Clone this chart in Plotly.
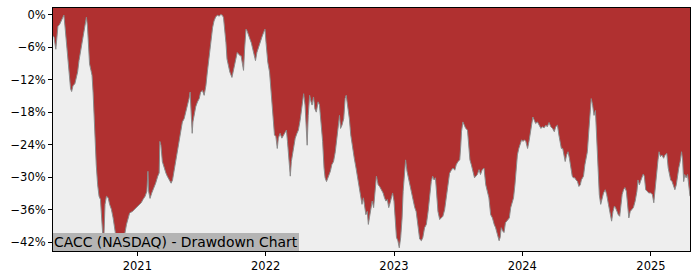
import pandas as pd
import plotly.graph_objects as go

START_DATE = "2020-05-06"

# Days elapsed since START_DATE for each sampled point of the drawdown curve
day_offsets = [
    0, 3, 8, 11, 14, 19, 24, 28, 31, 34, 38, 42, 46, 50, 53, 57, 62, 66, 70, 74,
    78, 82, 85, 89, 93, 95, 98, 100, 104, 108, 111, 114, 117, 120, 123, 127, 131, 135, 139, 142,
    145, 148, 152, 157, 161, 166, 171, 176, 180, 185, 190, 195, 199, 204, 209, 213, 218, 226, 233, 239,
    245, 251, 256, 262, 267, 270, 272, 276, 281, 287, 292, 298, 302,
    304, 307, 311, 316, 321, 325, 330, 336, 340, 344, 349, 354, 359, 363, 368, 373, 378, 382, 387, 390,
    393, 396, 398, 402, 406, 411, 416, 420, 425, 430, 435, 439, 444, 449, 454, 458, 463, 468, 473, 477,
    482, 485, 489, 492, 495, 499, 503, 509, 512, 516, 520, 524, 528, 532, 535, 539, 542, 545, 549, 552,
    556, 560, 564, 567, 572, 576, 580, 584, 589, 594, 599, 603,
    606, 611, 616, 620, 623, 626, 630, 634, 638, 641, 646, 651, 656, 660, 664, 667, 671, 675, 678, 683,
    689, 694, 698, 703, 708, 713, 717, 720, 723, 726, 730, 734, 737, 741, 745, 749, 754, 758, 763, 767,
    771, 774, 778, 782, 786, 789, 793, 798, 803, 808, 812, 815, 818, 822, 827, 831, 834, 838, 843, 847,
    852, 857, 862, 866, 871, 875, 879, 883, 886, 890, 894, 897, 900, 905,
    908, 912, 916, 920, 925, 929, 934, 939, 943, 947, 951, 955, 959, 962, 966, 970, 974, 977, 981, 985,
    989, 993, 996, 1000, 1003, 1007, 1011, 1014, 1019, 1024, 1029, 1033, 1038, 1043, 1048, 1052, 1057, 1062, 1067, 1071,
    1076, 1080, 1084, 1088, 1091, 1095, 1100, 1105, 1109, 1114, 1119, 1124, 1128, 1133, 1138, 1143, 1147, 1152, 1157, 1160,
    1162, 1166, 1170, 1174, 1179, 1182, 1186, 1190, 1195, 1199, 1203, 1207,
    1212, 1216, 1221, 1226, 1231, 1236, 1240, 1245, 1250, 1255, 1259, 1264, 1269, 1272, 1275, 1279, 1283, 1287, 1291, 1295,
    1298, 1302, 1306, 1310, 1314, 1318, 1321, 1325, 1329, 1333, 1337, 1341, 1345, 1350, 1354, 1358, 1361, 1365, 1369, 1373,
    1378, 1383, 1388, 1392, 1397, 1402, 1406, 1411, 1416, 1421, 1426, 1430, 1435, 1439, 1443, 1446, 1450, 1454, 1457, 1461,
    1465, 1469, 1473, 1477, 1480, 1484, 1488, 1492, 1496, 1500, 1503, 1509,
    1513, 1517, 1520, 1524, 1528, 1531, 1535, 1539, 1543, 1545, 1548, 1551, 1554, 1558, 1562, 1566, 1571, 1575, 1580, 1585,
    1589, 1593, 1597, 1600, 1604, 1608, 1612, 1615, 1619, 1623, 1627, 1631, 1634, 1638, 1642, 1647, 1651, 1656, 1661, 1664,
    1668, 1671, 1675, 1679, 1682, 1686, 1690, 1695, 1700, 1705, 1709, 1713, 1717, 1721, 1724, 1728, 1732, 1737, 1741, 1746,
    1750, 1754, 1757, 1761, 1765, 1769, 1773, 1777, 1780, 1784, 1788, 1791, 1794, 1797, 1801, 1805, 1809, 1812,
]

# Drawdown from running peak, in percent
drawdown_pct = [
    -3.9, -4.2, -6.4, -3.6, -2.2, -1.8, -1.2, -0.6, -0.1, -2.1, -5.2, -8.8, -11.6, -13.7, -14.2, -13.1, -12.8, -11.6, -10.6, -8.5,
    -7.0, -5.2, -3.9, -2.4, -0.9, -0.5, -2.1, -5.2, -9.1, -10.3, -11.2, -14.3, -19.2, -24.1, -27.7, -31.4, -33.5, -34.1, -37.5, -41.1,
    -40.5, -35.0, -33.5, -33.8, -35.0, -35.9, -37.5, -39.9, -41.4, -42.5, -42.3, -41.1, -40.8, -40.5, -38.7, -37.5, -36.6, -36.3, -35.8, -35.4,
    -35.0, -34.7, -34.1, -33.5, -32.6, -28.9, -32.6, -33.9, -32.9, -32.0, -31.1, -29.8, -29.2,
    -23.4, -24.1, -27.1, -28.3, -29.2, -29.8, -30.5, -31.1, -30.5, -28.9, -27.1, -25.3, -22.8, -21.0, -19.8, -19.2, -18.0, -16.7, -15.5, -14.3,
    -18.0, -21.9, -19.8, -18.0, -17.0, -16.1, -15.5, -14.3, -14.0, -14.9, -13.1, -10.6, -7.9, -4.8, -2.4, -1.2, -0.4, -0.15, -0.3, 0.0,
    -0.15, -0.6, -2.7, -5.2, -8.2, -9.7, -10.6, -11.6, -10.6, -9.7, -8.2, -7.0, -7.3, -7.6, -7.6, -9.7, -10.3, -6.4, -2.7, -3.0,
    -3.6, -4.5, -5.2, -6.1, -7.6, -8.5, -7.0, -6.1, -5.2, -4.2, -3.3, -2.7,
    -5.2, -8.8, -10.6, -14.3, -16.7, -19.8, -22.2, -22.5, -24.7, -22.8, -21.9, -22.8, -22.2, -21.9, -21.3, -23.4, -27.1, -29.8, -27.1, -24.7,
    -22.8, -21.9, -21.3, -19.5, -17.4, -14.6, -16.7, -21.6, -24.1, -18.6, -14.9, -16.1, -16.7, -15.2, -17.4, -18.0, -16.1, -16.7, -19.8, -23.4,
    -28.3, -30.1, -30.8, -30.1, -29.5, -28.9, -27.7, -27.1, -25.3, -22.2, -19.8, -18.6, -21.0, -20.4, -19.2, -15.5, -14.9, -16.7, -19.2, -22.2,
    -24.7, -26.5, -28.3, -30.1, -31.7, -33.5, -35.0, -33.8, -35.6, -36.9, -36.3, -38.7, -37.5, -35.0,
    -34.4, -35.6, -32.6, -29.8, -31.4, -31.7, -32.3, -32.9, -33.8, -34.4, -34.1, -35.6, -34.7, -33.8, -32.9, -34.4, -39.9, -41.1, -41.7, -43.0,
    -41.1, -37.5, -32.6, -28.9, -26.8, -28.9, -30.1, -31.4, -32.9, -34.4, -35.6, -36.3, -38.7, -41.4, -41.7, -41.1, -39.3, -38.7, -36.3, -33.2,
    -30.8, -29.8, -30.5, -30.1, -33.8, -36.3, -37.8, -37.5, -37.2, -36.0, -33.8, -31.4, -29.3, -28.7, -28.3, -28.7, -27.7, -27.1, -26.8, -24.1,
    -21.6, -19.8, -20.4, -21.0, -21.3, -24.7, -26.8, -27.7, -28.9, -30.1, -29.8, -29.5,
    -28.6, -29.5, -28.6, -28.3, -31.4, -32.6, -33.8, -36.9, -37.5, -38.7, -39.3, -40.5, -41.7, -41.1, -39.3, -39.9, -40.2, -38.4, -38.1, -37.8,
    -37.5, -35.6, -34.4, -33.8, -31.4, -27.7, -25.9, -24.7, -23.7, -23.1, -23.4, -23.1, -23.4, -24.7, -23.4, -21.6, -21.0, -18.9, -19.5, -20.1,
    -19.8, -20.4, -21.0, -20.7, -20.9, -20.4, -20.7, -19.9, -20.7, -21.0, -21.6, -20.7, -20.4, -22.2, -23.4, -24.7, -24.7, -26.5, -27.1, -25.9,
    -25.3, -26.5, -28.3, -29.8, -30.1, -30.1, -30.5, -30.8, -31.7, -31.4, -30.5, -29.8,
    -27.7, -26.5, -25.3, -21.6, -17.9, -15.5, -16.7, -18.6, -17.7, -20.4, -24.7, -28.9, -33.2, -35.0, -33.8, -32.9, -32.3, -33.2, -35.0, -36.9,
    -38.1, -36.3, -35.3, -35.6, -36.3, -36.9, -37.2, -35.0, -33.2, -32.3, -31.9, -32.6, -35.0, -37.5, -36.3, -35.9, -35.6, -34.4, -32.6, -30.5,
    -31.4, -30.8, -30.1, -29.4, -29.8, -32.3, -32.6, -32.9, -32.9, -33.2, -34.7, -31.7, -28.9, -26.8, -25.3, -26.2, -25.9, -26.5, -25.9, -25.6,
    -28.3, -29.8, -30.5, -30.8, -31.4, -32.3, -31.4, -29.2, -28.3, -27.1, -25.3, -26.8, -30.8, -29.5, -30.1, -29.5, -32.6, -33.5,
]

y_tick_values = [0, -6, -12, -18, -24, -30, -36, -42]
y_tick_labels = ["0%", "\u22126%", "\u221212%", "\u221218%", "\u221224%", "\u221230%", "\u221236%", "\u221242%"]
x_tick_dates = ["2021-01-01", "2022-01-01", "2023-01-01", "2024-01-01", "2025-01-01"]
x_tick_labels = ["2021", "2022", "2023", "2024", "2025"]

TITLE = "CACC (NASDAQ) - Drawdown Chart"
Y_MIN, Y_MAX = -43.6, 1.2

dates = pd.Timestamp(START_DATE) + pd.to_timedelta(day_offsets, unit="D")

RED = "#b03030"
GRAY_BG = "#eeeeee"

fig = go.Figure()
fig.add_trace(go.Scatter(
    x=dates, y=[Y_MIN] * len(dates), mode="lines",
    line=dict(width=0, color=GRAY_BG), hoverinfo="skip", showlegend=False,
))
fig.add_trace(go.Scatter(
    x=dates, y=drawdown_pct, mode="lines",
    line=dict(width=1, color="#8a8a8a"),
    fill="tonexty", fillcolor=GRAY_BG, showlegend=False,
))

axis_font = dict(family="DejaVu Sans", size=11.5, color="black")
fig.update_layout(
    width=700, height=280,
    margin=dict(l=53, r=10, t=7, b=28),
    paper_bgcolor="white",
    plot_bgcolor=RED,
    showlegend=False,
    xaxis=dict(
        type="date",
        range=[dates[0], dates[-1]],
        tickvals=x_tick_dates, ticktext=x_tick_labels,
        ticks="outside", ticklen=4, tickwidth=1, tickcolor="black",
        showline=True, linecolor="black", linewidth=1, mirror=True,
        showgrid=False, zeroline=False,
        tickfont=axis_font,
    ),
    yaxis=dict(
        range=[Y_MIN, Y_MAX],
        tickvals=y_tick_values, ticktext=y_tick_labels,
        ticks="outside", ticklen=4, tickwidth=1, tickcolor="black",
        showline=True, linecolor="black", linewidth=1, mirror=True,
        showgrid=False, zeroline=False,
        tickfont=axis_font,
    ),
    annotations=[dict(
        text=TITLE, xref="paper", yref="paper", x=0, y=0,
        xanchor="left", yanchor="bottom", showarrow=False,
        font=dict(family="DejaVu Sans", size=13.9, color="black"),
        bgcolor="#b4b4b4", borderpad=1, borderwidth=0,
    )],
)

fig.write_html("out.html")
